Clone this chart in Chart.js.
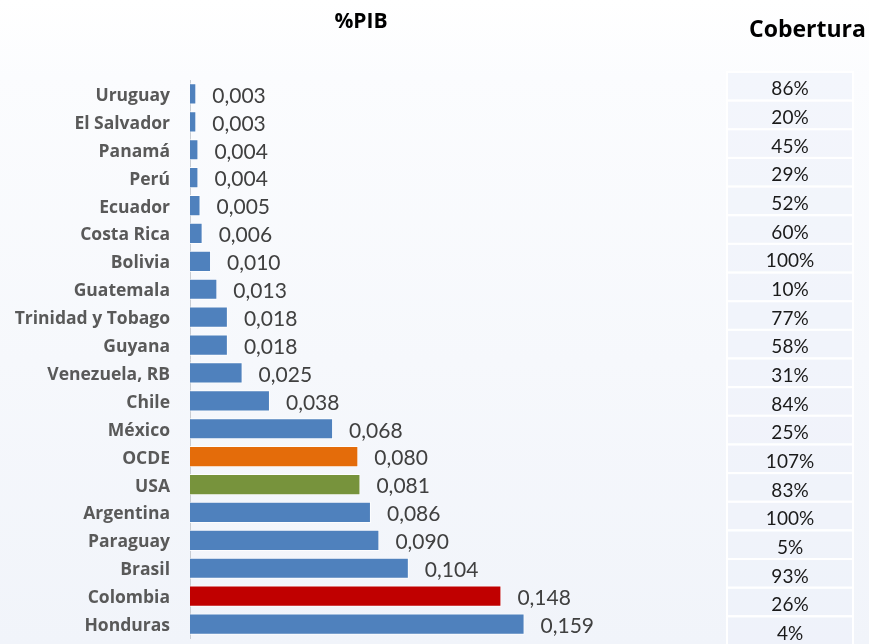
<!DOCTYPE html>
<html>
<head>
<meta charset="utf-8">
<script src="https://cdn.jsdelivr.net/npm/chart.js@4"></script>
<style>
  html, body { margin: 0; padding: 0; }
  body { width: 869px; height: 644px; background: linear-gradient(#ffffff 0%, #fbfcfe 12%, #f1f4fa 100%); overflow: hidden; }
  #wrap { position: relative; width: 869px; height: 644px; }
  #title { position: absolute; left: 300px; width: 122px; top: 6px; text-align: center; font: bold 21px "Open Sans", sans-serif; color: #000; }
  #cobTitle { position: absolute; left: 749px; top: 12px; font: bold 23px "Open Sans", sans-serif; color: #000; }
</style>
</head>
<body>
<div id="wrap">
  <canvas id="myChart" width="869" height="644"></canvas>
  <div id="title">%PIB</div>
  <div id="cobTitle">Cobertura</div>
</div>
<script>
// %PIB por país y cobertura
const countries = ['Uruguay', 'El Salvador', 'Panamá', 'Perú', 'Ecuador', 'Costa Rica', 'Bolivia', 'Guatemala',
    'Trinidad y Tobago', 'Guyana', 'Venezuela, RB', 'Chile', 'México', 'OCDE', 'USA', 'Argentina',
    'Paraguay', 'Brasil', 'Colombia', 'Honduras'];
const pib = [0.003, 0.003, 0.004, 0.004, 0.005, 0.006, 0.010, 0.013, 0.018, 0.018, 0.025, 0.038, 0.068,
    0.080, 0.081, 0.086, 0.090, 0.104, 0.148, 0.159];
const cobertura = ['86%', '20%', '45%', '29%', '52%', '60%', '100%', '10%', '77%', '58%', '31%', '84%', '25%',
    '107%', '83%', '100%', '5%', '93%', '26%', '4%'];

const barColors = countries.map(c => {
    if (c === 'OCDE') return '#e46c0a';   // orange
    if (c === 'USA') return '#77933c';    // green
    if (c === 'Colombia') return '#c00000'; // red
    return '#4f81bd';                     // blue
});

// value labels next to each bar, "0,003" style
const valueLabels = {
    id: 'valueLabels',
    afterDatasetsDraw(chart) {
        const ctx = chart.ctx;
        const meta = chart.getDatasetMeta(0);
        ctx.save();
        ctx.font = '21px Lato, sans-serif';
        ctx.fillStyle = '#404040';
        ctx.textAlign = 'left';
        ctx.textBaseline = 'middle';
        meta.data.forEach((bar, i) => {
            const txt = pib[i].toFixed(3).replace('.', ',');
            ctx.fillText(txt, bar.x + 16, bar.y + 2);
        });
        ctx.restore();
    }
};

// Cobertura column on the right
const coberturaTable = {
    id: 'coberturaTable',
    afterDraw(chart) {
        const ctx = chart.ctx;
        const left = 727, width = 126, top = 72, rowH = 28.65;
        ctx.save();
        cobertura.forEach((txt, i) => {
            const y = top + i * rowH;
            ctx.fillStyle = 'rgba(236, 241, 249, 0.55)';
            ctx.fillRect(left, y, width, rowH);
            ctx.strokeStyle = '#ffffff';
            ctx.lineWidth = 2;
            ctx.strokeRect(left, y, width, rowH);
            ctx.fillStyle = '#1a1a1a';
            ctx.font = '19px Lato, sans-serif';
            ctx.textAlign = 'center';
            ctx.textBaseline = 'middle';
            ctx.fillText(txt, left + width / 2, y + rowH / 2 + 3);
        });
        ctx.restore();
    }
};

const ctx = document.getElementById('myChart');

new Chart(ctx, {
    type: 'bar',
    data: {
        labels: countries,
        datasets: [{
            label: '%PIB',
            data: pib,
            backgroundColor: barColors,
            borderColor: 'rgba(255, 255, 255, 0.8)',
            borderWidth: 1,
            borderSkipped: 'start',
            barPercentage: 0.76,
            categoryPercentage: 1
        }]
    },
    plugins: [valueLabels, coberturaTable],
    options: {
        indexAxis: 'y',
        responsive: false,
        animation: false,
        layout: {
            padding: { left: 0, right: 174, top: 80, bottom: 6 }
        },
        plugins: {
            legend: { display: false },
            tooltip: { enabled: false }
        },
        scales: {
            x: {
                display: false,
                min: 0,
                max: 0.24
            },
            y: {
                afterFit(scale) {
                    scale.width = 190;
                    scale.paddingTop = 0;
                    scale.paddingBottom = 0;
                },
                grid: { display: false, drawTicks: false },
                border: { display: true, color: '#c8ccd2', width: 1 },
                ticks: {
                    padding: 20,
                    labelOffset: 2,
                    color: '#595959',
                    font: { family: 'Open Sans', size: 17.5, weight: 'bold' }
                }
            }
        }
    }
});
</script>
</body>
</html>
